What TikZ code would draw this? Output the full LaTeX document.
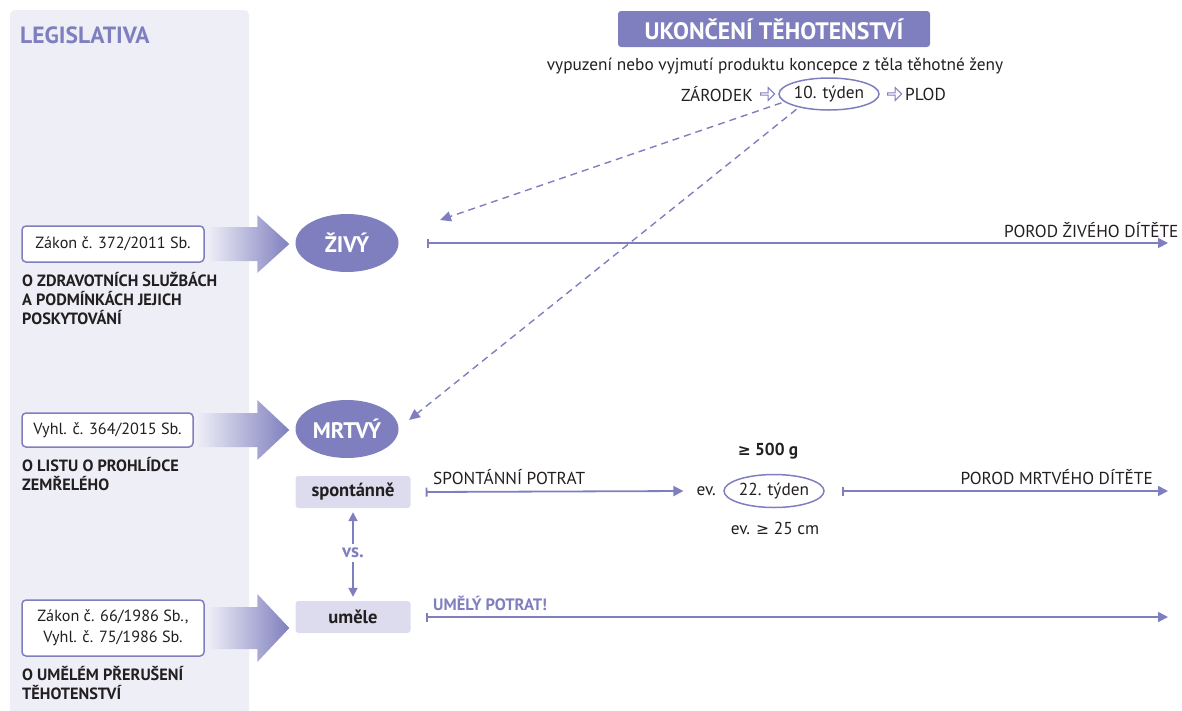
\documentclass[tikz,border=0pt]{standalone}
\usepackage{fontspec}
\setmainfont{PT Sans}
\newfontfamily\symfont{DejaVu Sans}
\usetikzlibrary{shapes.geometric,shapes.arrows,arrows.meta,calc}
\definecolor{lav}{HTML}{7F7FBF}
\definecolor{panelbg}{HTML}{EEEEF7}
\definecolor{boxbg}{HTML}{DCDCEE}
\definecolor{ink}{HTML}{231F20}
\newcommand{\fs}[2]{\fontsize{#1}{#2}\selectfont}
\newcommand{\fatarrow}[4]{%
  \shade[left color=panelbg, right color=lav]
   ($(#1.east)+(3,-#3)$) -- ($(#2.west |- #1.east)+(-38,-#3)$) --
   ($(#2.west |- #1.east)+(-38,-#4)$) -- ($(#2.west |- #1.east)+(-6,0)$) --
   ($(#2.west |- #1.east)+(-38,#4)$) -- ($(#2.west |- #1.east)+(-38,#3)$) --
   ($(#1.east)+(3,#3)$) -- cycle;}
\tikzset{
  lawbox/.style={draw=lav, line width=1.5pt, fill=white, rounded corners=4pt, text=ink,
    font=\fs{16.2}{21}, inner sep=0pt, align=center},
  capt/.style={anchor=north west, inner sep=0pt, align=left, text=ink, font=\bfseries\fs{16.3}{19}},
  state/.style={ellipse, fill=lav, text=white, font=\bfseries\fs{22.5}{24},
    minimum width=103pt, minimum height=58pt, inner sep=0pt},
  modebox/.style={fill=boxbg, rounded corners=3pt, minimum width=115pt, minimum height=32pt,
    text=ink, font=\bfseries\fs{18.5}{20}, inner sep=0pt},
  week/.style={ellipse, draw=lav, line width=1.5pt, minimum width=100pt, minimum height=32pt,
    inner sep=0pt, text=ink, font=\fs{17.3}{18}},
  plain/.style={text=ink, font=\fs{17.3}{18}, inner sep=0pt},
  flow/.style={draw=lav, line width=1.8pt, {Bar[width=9pt,line width=1.8pt]}-{Triangle[length=10pt,width=10pt]}},
  vsarrow/.style={draw=lav, line width=1.8pt, -{Triangle[length=9pt,width=9pt]}, shorten >=4pt, shorten <=3pt},
  dasharrow/.style={draw=lav, line width=1.4pt, dash pattern=on 7pt off 5pt, -{Triangle[length=11pt,width=10pt]}},
  hollow/.style={single arrow, draw=lav, line width=1pt, minimum height=14pt, minimum width=13pt,
    single arrow head extend=2.5pt, inner sep=0pt}
}
\begin{document}
\begin{tikzpicture}[x=1pt,y=-1pt]
\useasboundingbox (0,0) rectangle (1182,710);
% left panel
\fill[panelbg, rounded corners=5pt] (10,10) rectangle (249,730);
\node[anchor=west, inner sep=0pt, text=lav, font=\bfseries\fs{23.5}{26}] (leg) at (20,35) {LEGISLATIVA};

% title
\node[fill=lav, rounded corners=3pt, text=white, font=\bfseries\fs{23.8}{26},
  minimum width=312pt, minimum height=36pt, inner sep=0pt] (title) at (774,29) {UKONČENÍ TĚHOTENSTVÍ};
\node[plain] (def) at (775,66) {vypuzení nebo vyjmutí produktu koncepce z těla těhotné ženy};
\node[week] (t10) at (829,94) {10. týden};
\node[plain, anchor=east] (zar) at (753,94) {ZÁRODEK};
\node[hollow] (h1) at (767,94) {};
\node[hollow] (h2) at (894,94) {};
\node[plain, anchor=west] (plod) at (905,94) {PLOD};

% states
\node[state] (ziv) at (347,243) {ŽIVÝ};
\node[state] (mrt) at (347,429) {MRTVÝ};

% law boxes
\node[lawbox, minimum width=182pt, minimum height=36pt] (z372) at (113,244) {Zákon č. 372/2011 Sb.};
\node[capt] (c372) at (22,272) {O ZDRAVOTNÍCH SLUŽBÁCH\\A PODMÍNKÁCH JEJICH\\POSKYTOVÁNÍ};
\node[lawbox, minimum width=171pt, minimum height=34pt] (v364) at (107.5,430) {Vyhl. č. 364/2015 Sb.};
\node[capt] (c364) at (22,457) {O LISTU O PROHLÍDCE\\ZEMŘELÉHO};
\node[lawbox, minimum width=182pt, minimum height=56pt] (z66) at (113,628) {Zákon č. 66/1986 Sb.,\\Vyhl. č. 75/1986 Sb.};
\node[capt] (c66) at (22,666) {O UMĚLÉM PŘERUŠENÍ\\TĚHOTENSTVÍ};

% modes
\node[modebox] (spon) at (353,492) {spontánně};
\node[modebox] (umele) at (353,617) {uměle};
\node[inner sep=1pt, text=lav, font=\bfseries\fs{19}{20}] (vs) at (353,553) {vs.};

% fat arrows
\fatarrow{z372}{ziv}{17}{29}
\fatarrow{v364}{mrt}{17}{30}
\fatarrow{z66}{umele}{21}{34}

% vs arrows
\draw[vsarrow] (vs) -- (spon);
\draw[vsarrow] (vs) -- (umele);

% 22. tyden group
\node[week, minimum width=100pt, minimum height=33pt] (t22) at (774,491) {22. týden};
\node[plain, anchor=east] (ev) at (716,491) {ev.};
\node[plain, font=\bfseries\fs{17.3}{18}] (g500) at (768,451) {{\symfont\fs{15.5}{18}≥} 500 g};
\node[plain] (cm25) at (775,528) {ev. {\symfont\fs{15.5}{18}≥} 25 cm};

% flow lines
\coordinate (endziv) at (1168,243);
\coordinate (endmrt) at (1168,491);
\coordinate (endum) at (1168,617);
\draw[flow] ($(ziv.east)+(28,0)$) -- (endziv);
\node[plain, anchor=base west] (lziv) at (1004,237) {POROD ŽIVÉHO DÍTĚTE};
\draw[flow] ($(spon.east)+(15,0)$) -- ($(ev.west)+(-13,0)$);
\node[plain, anchor=base west] (lspon) at (433,484) {SPONTÁNNÍ POTRAT};
\draw[flow] ($(t22.east)+(17,0)$) -- (endmrt);
\node[plain, anchor=base east] (lmrt) at (1153,484) {POROD MRTVÉHO DÍTĚTE};
\draw[flow] ($(umele.east)+(15,0)$) -- (endum);
\node[plain, anchor=base west, text=lav, font=\bfseries\fs{16.5}{18}] (lum) at (433,610) {UMĚLÝ POTRAT!};

% dashed arrows
\coordinate (dz) at ($(ziv.center)+(93,-23)$);
\coordinate (dm) at ($(mrt.center)+(62,-9)$);
\draw[dasharrow, shorten <=3pt] (t10.190) -- (dz);
\draw[dasharrow, shorten <=3pt] (t10.204) -- (dm);
\end{tikzpicture}
\end{document}
